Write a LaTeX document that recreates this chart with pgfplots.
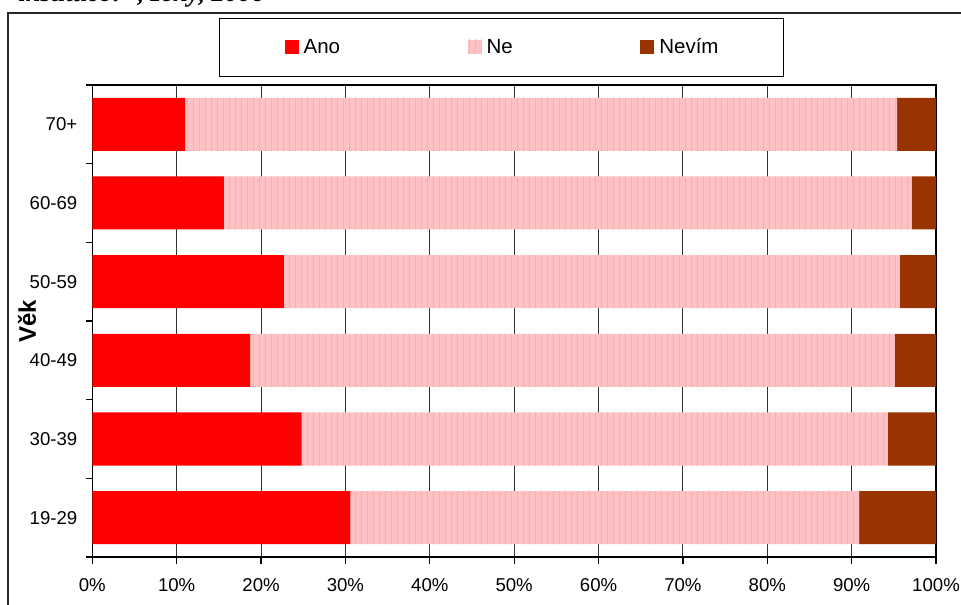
\documentclass[border=0pt]{standalone}
\usepackage{fontspec}
\setmainfont{Liberation Sans}
\newfontfamily\titlefont{Liberation Serif}
\usepackage{pgfplots}
\pgfplotsset{compat=1.18}
\usetikzlibrary{patterns}
\definecolor{ano}{HTML}{FF0000}
\definecolor{ne}{HTML}{FFC2C4}
\definecolor{nestripe}{HTML}{FFABB3}
\definecolor{nevim}{HTML}{993300}
\begin{document}
\begin{tikzpicture}
\useasboundingbox (0pt,0pt) rectangle (480.5pt,302pt);
\clip (0pt,0pt) rectangle (480.5pt,302pt);
\node[anchor=base west, inner sep=0pt, font=\titlefont\bfseries\itshape\fontsize{13.25}{15}\selectfont] at (9pt,301.4pt) {instituce?“, ženy, 2006};
\draw[line width=0.6pt, black!85] (4pt,-5pt) -- (4pt,295.5pt) -- (490pt,295.5pt);
\begin{axis}[
  at={(46.15pt,23.5pt)}, anchor=south west,
  scale only axis, width=421.85pt, height=236pt,
  xbar stacked, bar width=26.5pt,
  xmin=0, xmax=100, ymin=-0.5, ymax=5.5,
  enlargelimits=false,
  xtick={0,10,...,100},
  xticklabels={0\%,10\%,20\%,30\%,40\%,50\%,60\%,70\%,80\%,90\%,100\%},
  ytick={-0.5,0.5,1.5,2.5,3.5,4.5,5.5}, yticklabels={},
  extra y ticks={0,1,2,3,4,5},
  extra y tick labels={19-29,30-39,40-49,50-59,60-69,70+},
  extra y tick style={major tick length=0pt},
  tick align=outside, major tick length=3.25pt,
  xtick pos=bottom, ytick pos=left,
  xmajorgrids, grid style={black!80, line width=0.5pt},
  axis line style={black, line width=0.6pt},
  tick style={black, line width=0.6pt},
  xticklabel style={font=\fontsize{9.3}{11}\selectfont, anchor=base, inner sep=0pt, yshift=-14.2pt},
  yticklabel style={font=\fontsize{9.3}{11}\selectfont, anchor=east, inner sep=0pt, xshift=-7.3pt},
  ylabel={Věk},
  ylabel style={font=\bfseries\fontsize{12}{14}\selectfont, at={(axis description cs:-0.0774,0.5)}, anchor=center},
  legend style={at={(0.1502,1.0794)}, anchor=west, legend columns=3, draw=black, line width=0.6pt,
    inner xsep=32.5pt, inner ysep=10pt, font=\fontsize{10.25}{12}\selectfont,
    nodes={inner sep=0pt},
    /tikz/every odd column/.append style={column sep=2.5pt},
    /tikz/every even column/.append style={column sep=63.75pt}},
  legend image code/.code={\path[#1, draw=none] (0pt,-3.2pt) rectangle (7pt,3.8pt);},
]
\addplot[fill=ano, draw=none] coordinates {(30.6,0) (24.8,1) (18.7,2) (22.7,3) (15.6,4) (11.0,5)};
\addplot[fill=ne, draw=none, postaction={pattern=vertical lines, pattern color=nestripe}] coordinates {(60.3,0) (69.5,1) (76.4,2) (73.0,3) (81.5,4) (84.4,5)};
\addplot[fill=nevim, draw=none] coordinates {(9.1,0) (5.7,1) (4.9,2) (4.3,3) (2.9,4) (4.6,5)};
\legend{Ano, Ne, Nevím}
\end{axis}
\end{tikzpicture}
\end{document}
